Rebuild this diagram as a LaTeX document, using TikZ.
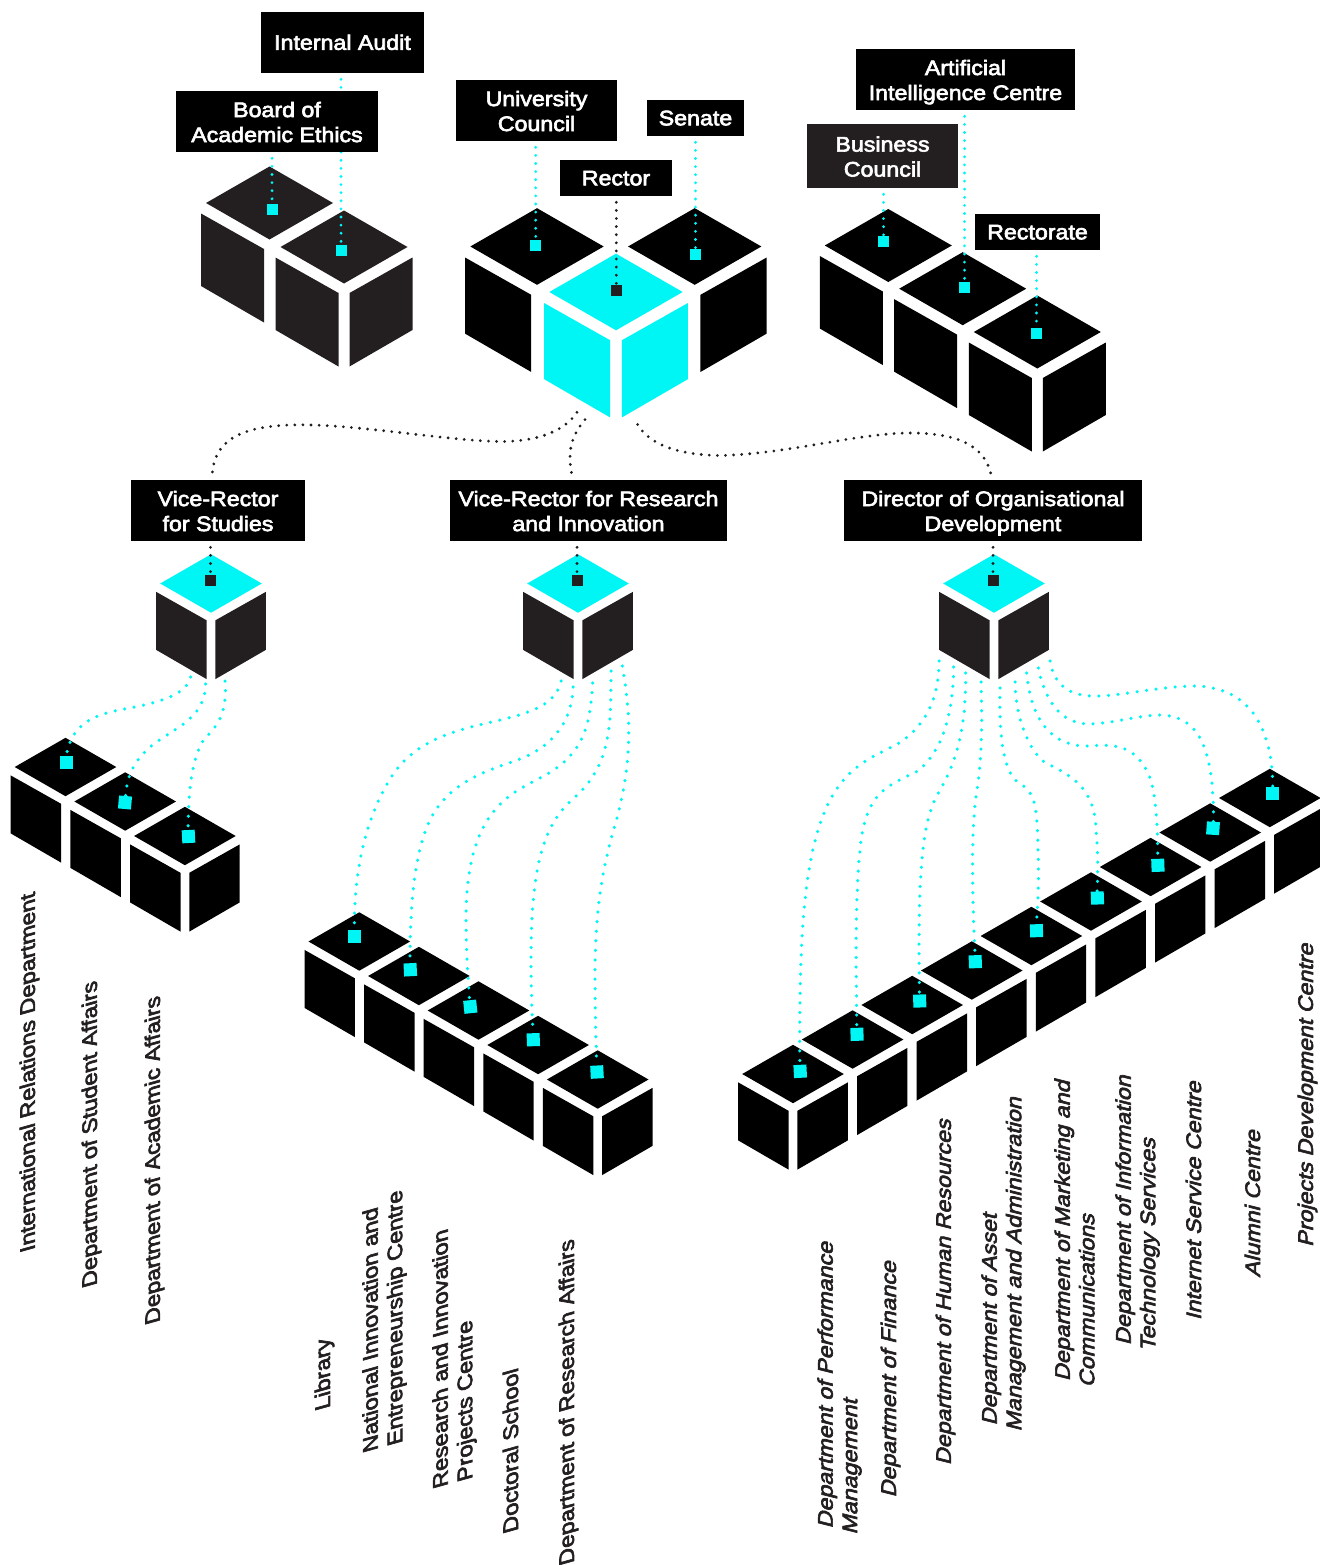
\documentclass[tikz,border=0pt]{standalone}
\usepackage{fontspec}
\setmainfont{Liberation Sans}[FakeBold=3, FakeStretch=1.105]
\usepackage{xcolor}
\definecolor{cubecyan}{HTML}{00F5F5}
\definecolor{inkdark}{HTML}{231F20}
\newcommand{\cubetop}[4]{\fill[#1] (#2,#3) +(-63.5*#4,0) -- +(0,-36.5*#4) -- +(63.5*#4,0) -- +(0,36.5*#4) -- cycle;}
\newcommand{\cubeleft}[4]{\fill[#1] (#2,#3) +(-68.5*#4,10.5*#4) -- +(-5.5*#4,46*#4) -- +(-5.5*#4,119.5*#4) -- +(-68.5*#4,83*#4) -- cycle;}
\newcommand{\cuberight}[4]{\fill[#1] (#2,#3) +(68.5*#4,10.5*#4) -- +(5.5*#4,46*#4) -- +(5.5*#4,119.5*#4) -- +(68.5*#4,83*#4) -- cycle;}
\tikzset{
    boxlabel/.style={rectangle, fill=black, text=white, align=center, inner sep=0pt, font=\fontsize{21}{25}\selectfont, execute at begin node={\rule{0pt}{19pt}}, execute at end node={\vphantom{Ay}}},
    boxpair/.style={boxlabel, execute at begin node={\rule{0pt}{45.5pt}}},
    sqcyan/.style={rectangle, fill=cubecyan, inner sep=0pt, minimum size=11pt},
    sqdept/.style={rectangle, fill=cubecyan, inner sep=0pt, minimum size=13pt},
    sqdark/.style={rectangle, fill=inkdark, inner sep=0pt, minimum size=11pt},
    toplink/.style={draw=cubecyan, line width=3.1pt, line cap=round, dash pattern=on 0pt off 8.1pt, dash phase=2pt},
    darklink/.style={draw=inkdark, line width=3.1pt, line cap=round, dash pattern=on 0pt off 8.1pt, dash phase=2pt},
    deptlink/.style={draw=cubecyan, line width=3.5pt, line cap=round, dash pattern=on 0pt off 9.6pt},
    deptname/.style={xshift=1.5pt, text=inkdark, align=left, inner sep=0pt, rotate=90, xslant=-.28, font=\fontsize{21}{24.5}\selectfont},
    deptslant/.style={xshift=1.5pt, text=inkdark, align=left, inner sep=0pt, rotate=90, xslant=.25, font=\fontsize{21}{24.5}\selectfont},
}
\begin{document}
\begin{tikzpicture}[x=1pt, y=-1pt]
            \useasboundingbox (0,0) rectangle (1319,1565);
            \cubetop{inkdark}{269.5}{203}{1} \cubeleft{inkdark}{269.5}{203}{1}
            \cubetop{inkdark}{344}{247}{1} \cubeleft{inkdark}{344}{247}{1} \cuberight{inkdark}{344}{247}{1}
            \cubetop{black}{537}{246.5}{1.05} \cubeleft{black}{537}{246.5}{1.05}
            \cubetop{black}{694.7}{246.5}{1.05} \cuberight{black}{694.7}{246.5}{1.05}
            \cubetop{cubecyan}{616}{292}{1.05} \cubeleft{cubecyan}{616}{292}{1.05} \cuberight{cubecyan}{616}{292}{1.05}
            \cubetop{black}{888.3}{245.5}{1} \cubeleft{black}{888.3}{245.5}{1}
            \cubetop{black}{962.7}{288.7}{1} \cubeleft{black}{962.7}{288.7}{1}
            \cubetop{black}{1037.3}{332}{1} \cubeleft{black}{1037.3}{332}{1} \cuberight{black}{1037.3}{332}{1}
            \cubetop{cubecyan}{211}{583.5}{.8} \cubeleft{inkdark}{211}{583.5}{.8} \cuberight{inkdark}{211}{583.5}{.8}
            \cubetop{cubecyan}{578}{583.5}{.8} \cubeleft{inkdark}{578}{583.5}{.8} \cuberight{inkdark}{578}{583.5}{.8}
            \cubetop{cubecyan}{994}{583.5}{.8} \cubeleft{inkdark}{994}{583.5}{.8} \cuberight{inkdark}{994}{583.5}{.8}
            \foreach \i in {0,1,2} {
                \cubetop{black}{65.5+59.7*\i}{767+34.5*\i}{.8} \cubeleft{black}{65.5+59.7*\i}{767+34.5*\i}{.8}
            }
            \cuberight{black}{184.9}{836}{.8}
            \foreach \i in {0,...,4} {
                \cubetop{black}{359.3+59.6*\i}{941.5+34.5*\i}{.8} \cubeleft{black}{359.3+59.6*\i}{941.5+34.5*\i}{.8}
            }
            \cuberight{black}{597.7}{1079.5}{.8}
            \foreach \i in {0,...,8} {
                \cubetop{black}{793+59.6*\i}{1074-34.5*\i}{.8} \cuberight{black}{793+59.6*\i}{1074-34.5*\i}{.8}
            }
            \cubeleft{black}{793}{1074}{.8}

            \node[sqcyan] (sqboard) at (272,209) {};
            \node[sqcyan] (sqaudit) at (341,250.5) {};
            \node[sqcyan] (squniv) at (535.7,245) {};
            \node[sqcyan] (sqsenate) at (695.5,254) {};
            \node[sqdark] (sqrector) at (616.3,290) {};
            \node[sqcyan] (sqbusiness) at (883.5,241) {};
            \node[sqcyan] (sqai) at (964.5,287) {};
            \node[sqcyan] (sqrectorate) at (1036.5,333) {};
            \node[sqdark] (sqstudies) at (210.5,580) {};
            \node[sqdark] (sqresearch) at (577,580) {};
            \node[sqdark] (sqdirector) at (993,580) {};

            \node[sqdept] (sqintl) at (66.5,762) {};
            \node[sqdept, rotate=-5] (sqstudent) at (125,802.5) {};
            \node[sqdept, rotate=3] (sqacademic) at (188.5,836.5) {};
            \node[sqdept] (sqlibrary) at (354.3,936.3) {};
            \node[sqdept, rotate=3] (sqnational) at (410.3,969.7) {};
            \node[sqdept, rotate=6] (sqprojects) at (470.3,1006.7) {};
            \node[sqdept, rotate=2] (sqdoctoral) at (533.3,1039.7) {};
            \node[sqdept, rotate=3] (sqaffairs) at (597,1072) {};
            \node[sqdept, rotate=3] (sqperf) at (800.2,1071.3) {};
            \node[sqdept, rotate=2] (sqfinance) at (857,1034.3) {};
            \node[sqdept, rotate=2] (sqhr) at (919.7,1001) {};
            \node[sqdept, rotate=2] (sqasset) at (975.3,961.7) {};
            \node[sqdept, rotate=2] (sqadmin) at (1036.5,930.7) {};
            \node[sqdept, rotate=2] (sqmarket) at (1097.4,898) {};
            \node[sqdept, rotate=2] (sqit) at (1157.9,865.3) {};
            \node[sqdept, rotate=-4] (sqisc) at (1213,828.3) {};
            \node[sqdept] (sqalumni) at (1272.8,793.3) {};

            \node[boxlabel, minimum width=163pt, minimum height=61pt] (audit) at (342.5,42.5) {Internal Audit};
            \draw[toplink] (audit.south -| sqaudit) -- (sqaudit.north);
            \node[boxpair, minimum width=202pt, minimum height=61pt] (board) at (277,121.5) {Board of\\Academic Ethics};
            \draw[toplink] (board.south -| sqboard) -- (sqboard.north);
            \node[boxpair, minimum width=161pt, minimum height=61pt] (univ) at (536.5,110.5) {University\\Council};
            \draw[toplink] (univ.south -| squniv) -- (squniv.north);
            \node[boxlabel, minimum width=97pt, minimum height=36pt] (senate) at (695.5,118) {Senate};
            \draw[toplink] (senate.south -| sqsenate) -- (sqsenate.north);
            \node[boxlabel, minimum width=112pt, minimum height=36pt] (rector) at (616,178) {Rector};
            \draw[darklink] (rector.south -| sqrector) -- (sqrector.north);
            \node[boxpair, minimum width=219pt, minimum height=61pt] (ai) at (965.5,79.5) {Artificial\\Intelligence Centre};
            \draw[toplink] (ai.south -| sqai) -- (sqai.north);
            \node[boxpair, fill=inkdark, minimum width=151pt, minimum height=64pt] (business) at (882.5,156) {Business\\Council};
            \draw[toplink] (business.south -| sqbusiness) -- (sqbusiness.north);
            \node[boxlabel, minimum width=125pt, minimum height=36pt] (rectorate) at (1037.5,232) {Rectorate};
            \draw[toplink] (rectorate.south -| sqrectorate) -- (sqrectorate.north);

            \node[boxpair, minimum width=174pt, minimum height=61pt] (studies) at (218,510.5) {Vice-Rector\\for Studies};
            \node[boxpair, minimum width=277pt, minimum height=61pt] (research) at (588.5,510.5) {Vice-Rector for Research\\and Innovation};
            \node[boxpair, minimum width=298pt, minimum height=61pt] (director) at (993,510.5) {Director of Organisational\\Development};
            \draw[darklink] (studies.south -| sqstudies) -- (sqstudies.north);
            \draw[darklink] (research.south -| sqresearch) -- (sqresearch.north);
            \draw[darklink] (director.south -| sqdirector) -- (sqdirector.north);

            \coordinate (rectorl) at (580,407);
            \coordinate (rectorm) at (589,415);
            \coordinate (rectorr) at (635,419);
            \draw[darklink] (rectorl) .. controls (568,432) and (535,442) .. (498,441.5) .. controls (440,440) and (350,423) .. (290,425) .. controls (240,427) and (212,440) .. ([xshift=-6pt]studies.north);
            \draw[darklink] (rectorm) .. controls (577,428) and (570,440) .. (570,458) .. controls (570,465) and (571,472) .. ([xshift=-15.5pt]research.north);
            \draw[darklink] (rectorr) .. controls (645,445) and (680,455) .. (720,455.5) .. controls (790,454) and (860,432) .. (915,433) .. controls (965,434) and (988,450) .. ([xshift=-1pt]director.north);

            \coordinate (studiesa) at (190.7,677);
            \coordinate (studiesb) at (205.7,684);
            \coordinate (studiesc) at (225,681);
            \draw[deptlink] (studiesa) .. controls (186,695) and (160,702) .. (130,708) .. controls (100,713) and (72,720) .. (sqintl.north);
            \draw[deptlink] (studiesb) .. controls (205,705) and (195,718) .. (170,733) .. controls (150,746) and (128,760) .. (sqstudent.north);
            \draw[deptlink] (studiesc) .. controls (227,705) and (222,722) .. (207,736) .. controls (195,748) and (188,780) .. (sqacademic.north);

            \coordinate (researcha) at (561,681);
            \coordinate (researchb) at (573,687);
            \coordinate (researchc) at (592.7,683);
            \coordinate (researchd) at (611,671);
            \coordinate (researche) at (622.3,666);
            \draw[deptlink] (researcha) .. controls (556,705) and (530,712) .. (505,719) .. controls (460,729) and (415,738) .. (390,779) .. controls (362,825) and (354,880) .. (sqlibrary.north);
            \draw[deptlink] (researchb) .. controls (572,720) and (555,745) .. (520,759) .. controls (490,770) and (450,780) .. (430,820) .. controls (415,852) and (410,900) .. (sqnational.north);
            \draw[deptlink] (researchc) .. controls (590,725) and (585,755) .. (540,778) .. controls (505,796) and (466,815) .. (466,920) .. controls (466,950) and (468,980) .. (sqprojects.north);
            \draw[deptlink] (researchd) .. controls (611,730) and (610,765) .. (575,797) .. controls (545,823) and (531,860) .. (531,960) .. controls (531,985) and (532,1015) .. (sqdoctoral.north);
            \draw[deptlink] (researche) .. controls (630,710) and (634,760) .. (615,825) .. controls (600,875) and (595,920) .. (595,980) .. controls (595,1010) and (596,1040) .. (sqaffairs.north);

            \coordinate (directora) at (939,661);
            \coordinate (directorb) at (953.7,667);
            \coordinate (directorc) at (965.7,673);
            \coordinate (directord) at (981,682);
            \coordinate (directore) at (1000,688);
            \coordinate (directorf) at (1015,682);
            \coordinate (directorg) at (1026.7,673);
            \coordinate (directorh) at (1038.3,668);
            \coordinate (directori) at (1050,661);
            \draw[deptlink] (directora) .. controls (939,700) and (925,727) .. (896,745) .. controls (860,762) and (835,775) .. (818,830) .. controls (803,880) and (799,950) .. (sqperf.north);
            \draw[deptlink] (directorb) .. controls (953,710) and (945,748) .. (918,771) .. controls (890,785) and (865,790) .. (860,850) .. controls (855,900) and (856,960) .. (sqfinance.north);
            \draw[deptlink] (directorc) .. controls (966,720) and (960,755) .. (940,790) .. controls (925,815) and (917,850) .. (sqhr.north);
            \draw[deptlink] (directord) .. controls (983,740) and (980,770) .. (977,790) .. controls (972,820) and (971,870) .. (sqasset.north);
            \draw[deptlink] (directore) .. controls (999,730) and (1002,765) .. (1015,780) .. controls (1035,792) and (1037,800) .. (1038,850) .. controls (1039,880) and (1038,905) .. (sqadmin.north);
            \draw[deptlink] (directorf) .. controls (1015,710) and (1025,745) .. (1043,761) .. controls (1060,772) and (1095,780) .. (1096,830) .. controls (1098,850) and (1098,875) .. (sqmarket.north);
            \draw[deptlink] (directorg) .. controls (1030,710) and (1045,746) .. (1087,746) .. controls (1107,745) and (1135,740) .. (1150,778) .. controls (1156,795) and (1158,830) .. (sqit.north);
            \draw[deptlink] (directorh) .. controls (1045,700) and (1060,724) .. (1090,724) .. controls (1115,723) and (1140,715) .. (1160,715) .. controls (1195,716) and (1214,740) .. (sqisc.north);
            \draw[deptlink] (directori) .. controls (1055,690) and (1075,697) .. (1100,696) .. controls (1130,694) and (1165,686) .. (1195,686) .. controls (1240,687) and (1272,715) .. (sqalumni.north);

            \node[deptname] (intl) at (28,1072) {International Relations Department};
            \node[deptname] (student) at (90,1134) {Department of Student Affairs};
            \node[deptname] (academic) at (153,1160) {Department of Academic Affairs};
            \node[deptname] (library) at (323,1374) {Library};
            \node[deptname] (national) at (383,1321) {National Innovation and\\Entrepreneurship Centre};
            \node[deptname] (projects) at (453,1355) {Research and Innovation\\Projects Centre};
            \node[deptname] (doctoral) at (509,1451) {Doctoral School};
            \node[deptname] (affairs) at (567,1402) {Department of Research Affairs};
            \node[deptslant] (perf) at (838,1387) {Department of Performance\\Management};
            \node[deptslant] (finance) at (889,1378) {Department of Finance};
            \node[deptslant] (hr) at (944,1291) {Department of Human Resources};
            \node[deptslant] (asset) at (1002,1260) {Department of Asset\\Management and Administration};
            \node[deptslant] (market) at (1073,1232) {Department of Marketing and\\Communications};
            \node[deptslant] (itserv) at (1136,1212) {Department of Information\\Technology Services};
            \node[deptslant] (isc) at (1192,1199) {Internet Service Centre};
            \node[deptslant] (alumni) at (1251,1202) {Alumni Centre};
            \node[deptslant] (pdc) at (1306,1094) {Projects Development Centre};
        \end{tikzpicture}
\end{document}
